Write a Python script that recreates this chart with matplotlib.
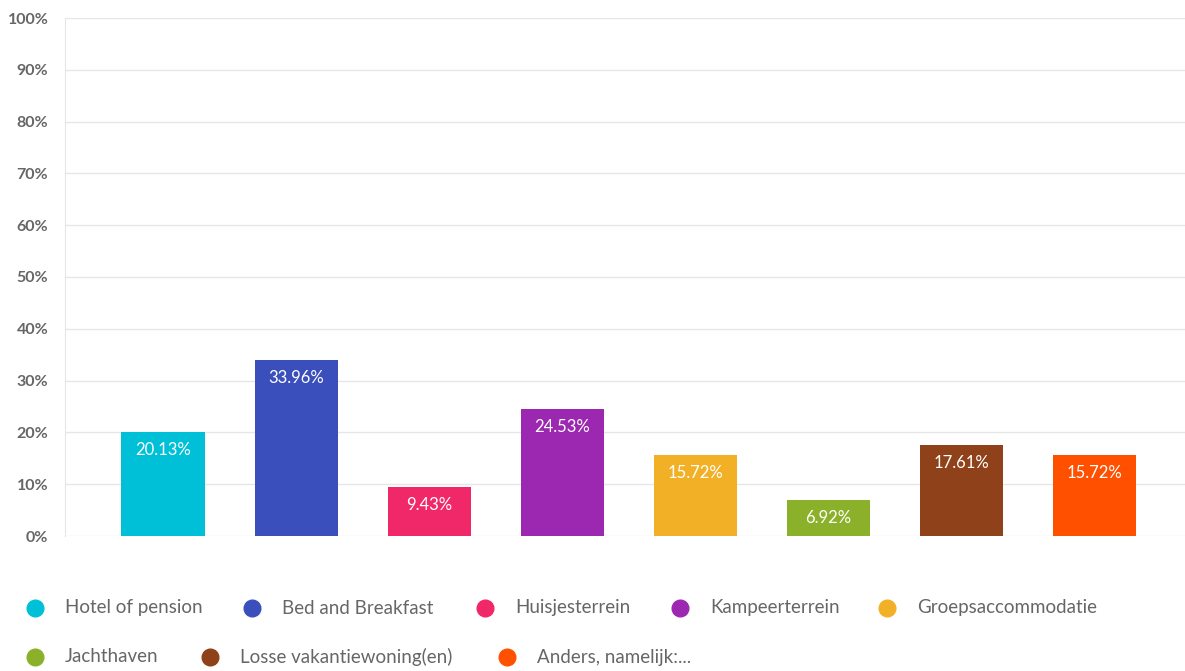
import numpy as np
import matplotlib.pyplot as plt

categories = ["Hotel of pension", "Bed and Breakfast", "Huisjesterrein", "Kampeerterrein",
              "Groepsaccommodatie", "Jachthaven", "Losse vakantiewoning(en)", "Anders, namelijk:..."]
values = [20.13, 33.96, 9.43, 24.53, 15.72, 6.92, 17.61, 15.72]
colors = ["#00c0d8", "#3b4fbc", "#f0286a", "#9c27b0", "#f2b026", "#8bb12a", "#8f4119", "#ff5000"]
yticks = list(range(0, 101, 10))

plt.rcParams['font.family'] = ['Lato', 'DejaVu Sans']

fig = plt.figure(figsize=(11.85, 6.71), dpi=100)
ax = fig.add_axes([65 / 1185, 1 - 536 / 671, 1 - 65 / 1185, (536 - 18) / 671])

x = np.arange(len(values))
ax.bar(x, values, width=0.625, color=colors, zorder=3)
for xi, v in zip(x, values):
    ax.annotate(f"{v:.2f}%", (xi, v), xytext=(0, -13), textcoords="offset points",
                ha="center", va="center", color="white", fontsize=12, zorder=4)

ax.set_xlim(-0.737, 7.68)
ax.set_ylim(0, 100)
ax.set_yticks(yticks)
ax.set_yticklabels([f"{t}%" for t in yticks], color="#666666", fontsize=11.5, fontweight="bold")
ax.set_xticks([])
ax.grid(axis="y", color="#e6e6e6", linewidth=1, zorder=0)
ax.tick_params(axis="y", length=0, pad=12)
for s in ["top", "right", "bottom"]:
    ax.spines[s].set_visible(False)
ax.spines["left"].set_color("#e6e6e6")

# legend, two rows
leg_pos = [(35, 608), (252, 608), (485, 608), (680, 608), (887, 608),
           (35, 657), (210, 657), (507, 657)]
for (px, py), c, lab in zip(leg_pos, colors, categories):
    fx, fy = px / 1185, 1 - py / 671
    fig.lines.append(plt.Line2D([fx], [fy], marker="o", markersize=12, color=c,
                                transform=fig.transFigure, linestyle="none"))
    fig.text(fx + 30 / 1185, fy, lab, va="center", ha="left", color="#666666", fontsize=13.5)

fig.savefig("out.png", dpi=100)
